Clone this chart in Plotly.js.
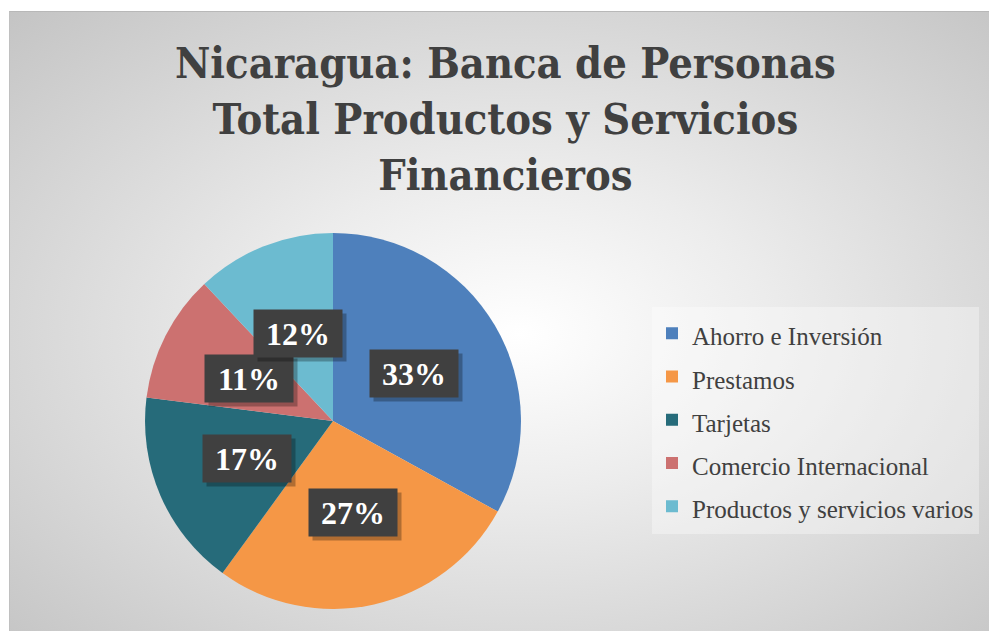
<!DOCTYPE html>
<html>
<head>
<meta charset="utf-8">
<script src="https://cdn.plot.ly/plotly-3.0.1.min.js"></script>
<style>
  html, body { margin: 0; padding: 0; background: #ffffff; width: 989px; height: 631px; overflow: hidden; }
  #bg { position: absolute; left: 9px; top: 11px; width: 980px; height: 620px;
        background: radial-gradient(ellipse farthest-corner at 52% 52%, #ffffff 0%, #ececec 35%, #c4c4c4 100%);
        border-top: 1px solid #b8b8b8; border-left: 1px solid #c0c0c0; box-sizing: border-box; }
  #chart { position: absolute; left: 0; top: 0; width: 989px; height: 631px; }
</style>
</head>
<body>
<div id="bg"></div>
<div id="chart"></div>
<script>
const categories = ['Ahorro e Inversión', 'Prestamos', 'Tarjetas', 'Comercio Internacional', 'Productos y servicios varios'];
const shares = [33, 27, 17, 11, 12];
const sliceColors = ['#4E80BC', '#F59746', '#266B7A', '#CC7170', '#6CBBD0'];
const titleText = 'Nicaragua: Banca de Personas<br>Total Productos y Servicios<br>Financieros';

const W = 989, H = 631;
const dom = { x: [0.1466, 0.5268], y: [0.0349, 0.6307] };
const serif = 'Liberation Serif, Times New Roman, serif';
const titleSerif = 'DejaVu Serif Condensed, DejaVu Serif, serif';

const trace = {
  type: 'pie',
  labels: categories.map(c => '<span style="font-size:25px">' + c + '</span>'),
  values: shares,
  sort: false,
  direction: 'clockwise',
  rotation: 0,
  marker: { colors: sliceColors, line: { width: 0 } },
  textinfo: 'none',
  hoverinfo: 'label+percent',
  domain: dom,
  showlegend: true
};

// data labels placed at half radius along each slice's mid angle
const total = shares.reduce((a, b) => a + b, 0);
const cxPx = (dom.x[0] + dom.x[1]) / 2 * W;
const cyPx = (1 - (dom.y[0] + dom.y[1]) / 2) * H;
const rPx = Math.min((dom.x[1] - dom.x[0]) * W, (dom.y[1] - dom.y[0]) * H) / 2;
const annotations = [];
let cum = 0;
shares.forEach((v) => {
  const mid = (cum + v / 2) / total * 2 * Math.PI;
  cum += v;
  const px = cxPx + 0.5 * rPx * Math.sin(mid);
  const py = cyPx - 0.5 * rPx * Math.cos(mid);
  const pct = Math.round(v / total * 100) + '%';
  const base = { xref: 'paper', yref: 'paper', x: px / W, y: 1 - py / H, showarrow: false,
                 xanchor: 'center', yanchor: 'middle',
                 width: 86, height: 45, align: 'center', valign: 'middle' };
  annotations.push(Object.assign({}, base, { text: '', bgcolor: 'rgba(0,0,0,0.28)', xshift: 4, yshift: -4 }));
  annotations.push(Object.assign({}, base, {
    text: '<b>' + pct + '</b>', bgcolor: '#404040',
    font: { family: serif, size: 32, color: '#ffffff' }
  }));
});

const layout = {
  width: W, height: H,
  margin: { l: 0, r: 0, t: 0, b: 0 },
  paper_bgcolor: 'rgba(0,0,0,0)',
  plot_bgcolor: 'rgba(0,0,0,0)',
  title: {
    text: '<b>' + titleText + '</b>',
    font: { family: titleSerif, size: 43, color: '#404040' },
    x: 0.511, xanchor: 'center', xref: 'paper',
    y: 1 - 78 / H, yanchor: 'top', yref: 'container'
  },
  legend: {
    x: 652 / W, xanchor: 'left',
    y: 1 - 420 / H, yanchor: 'middle',
    bgcolor: 'rgba(255,255,255,0.35)',
    font: { family: serif, size: 31, color: '#404040' },
    traceorder: 'normal'
  },
  annotations: annotations
};

Plotly.newPlot('chart', [trace], layout, { displayModeBar: false, staticPlot: true });
</script>
</body>
</html>
